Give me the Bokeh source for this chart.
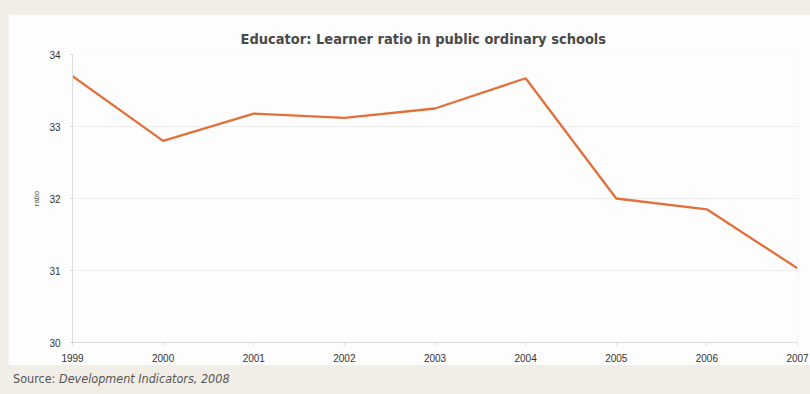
from bokeh.plotting import figure
from bokeh.layouts import column
from bokeh.models import Div, Range1d, FixedTicker
from bokeh.embed import file_html
from bokeh.resources import INLINE

years = [1999, 2000, 2001, 2002, 2003, 2004, 2005, 2006, 2007]
ratio = [33.70, 32.80, 33.18, 33.12, 33.25, 33.67, 32.00, 31.85, 31.03]
y_ticks = [30, 31, 32, 33, 34]
title_text = "Educator: Learner ratio in public ordinary schools"
source_label = "Source: "
source_ref = "Development Indicators, 2008"

BEIGE = "#f1eee7"
PANEL = "#fdfdfd"
COND = "'DejaVu Sans Condensed', 'Roboto Condensed', Roboto"

p = figure(width=802, height=351, output_backend="svg", toolbar_location=None,
           x_range=Range1d(1999, 2007), y_range=Range1d(30, 34),
           min_border_left=64, min_border_right=13, min_border_top=40, min_border_bottom=23)
p.margin = (14, 0, 0, 8)
p.background_fill_color = PANEL
p.border_fill_color = PANEL
p.outline_line_color = None

p.title.text = title_text
p.title.text_font = COND
p.title.text_font_style = "bold"
p.title.text_font_size = "14.5px"
p.title.text_color = "#4a4a4a"
p.title.align = "left"
p.title.offset = 168
p.title.standoff = 15

p.line(years, ratio, line_color="#e2703a", line_width=2.3)

p.xaxis.ticker = FixedTicker(ticks=years)
p.yaxis.ticker = FixedTicker(ticks=y_ticks)
p.yaxis.axis_label = "ratio"
p.yaxis.axis_label_text_font_size = "8px"
p.yaxis.axis_label_text_font_style = "normal"
p.yaxis.axis_label_text_color = "#555555"
p.yaxis.axis_label_text_font = "Liberation Sans"
p.yaxis.axis_label_standoff = 5

for ax in (p.xaxis, p.yaxis):
    ax.axis_line_color = "#dcdcdc"
    ax.major_tick_line_color = "#dcdcdc"
    ax.minor_tick_line_color = None
    ax.major_tick_out = 3
    ax.major_tick_in = 0
    ax.major_label_text_font = "Liberation Sans"
    ax.major_label_text_font_size = "10px"
    ax.major_label_text_color = "#333333"
p.xaxis.major_label_standoff = 8
p.yaxis.major_label_standoff = 9

p.xgrid.grid_line_color = None
p.ygrid.grid_line_color = "#eeeeee"

src = Div(text=f'{source_label}<i>{source_ref}</i>', width=790, height=22,
          styles={"font-family": COND, "font-size": "12.5px",
                  "color": "#555555", "padding-left": "8px", "padding-top": "0px"})

layout = column(p, src, width=810, height=394, spacing=0,
                styles={"background-color": BEIGE})

open("out.html", "w").write(file_html(layout, INLINE))
